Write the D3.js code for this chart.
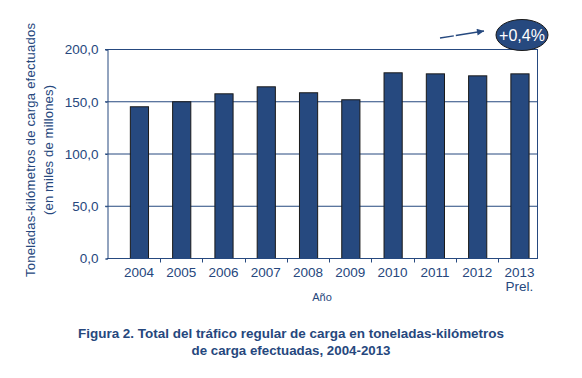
<!DOCTYPE html>
<html>
<head>
<meta charset="utf-8">
<script src="https://cdn.jsdelivr.net/npm/d3@7"></script>
<style>
  body { margin: 0; background: #fff; }
  svg text { font-family: "Liberation Sans", Arial, sans-serif; fill: #26477d; }
</style>
</head>
<body>
<div id="chart"></div>
<script>
// Data
const years = ['2004', '2005', '2006', '2007', '2008', '2009', '2010', '2011', '2012', '2013'];
const values = [145.2, 150.0, 157.6, 164.3, 158.6, 151.9, 177.7, 176.7, 174.8, 176.7];
const yTicks = [0, 50, 100, 150, 200];

const width = 582;
const height = 378;
const plot = { left: 107, right: 537, top: 49, bottom: 258 };
const blue = '#26497f';
const textBlue = '#26477d';

const svg = d3.select('#chart')
    .append('svg')
    .attr('width', width)
    .attr('height', height);

// Scales
const x = d3.scaleBand()
    .domain(years)
    .range([plot.left, plot.right])
    .paddingInner(0.57)
    .paddingOuter(0.37)
    .align(0.73);

const y = d3.scaleLinear()
    .domain([0, 200])
    .range([plot.bottom, plot.top]);

const fmt = d => d3.format('.1f')(d).replace('.', ',');

// Gridlines
svg.append('g')
    .selectAll('line')
    .data(yTicks.filter(d => d > 0))
    .join('line')
    .attr('x1', plot.left - 2)
    .attr('x2', plot.right)
    .attr('y1', d => y(d) + 0.5)
    .attr('y2', d => y(d) + 0.5)
    .attr('stroke', blue)
    .attr('stroke-width', 1);

// Right border
svg.append('line')
    .attr('x1', plot.right + 0.5).attr('x2', plot.right + 0.5)
    .attr('y1', plot.top).attr('y2', plot.bottom)
    .attr('stroke', blue);

// Bars
svg.append('g')
    .selectAll('rect')
    .data(values)
    .join('rect')
    .attr('x', (d, i) => x(years[i]) + 0.5)
    .attr('y', d => y(d) + 0.5)
    .attr('width', x.bandwidth())
    .attr('height', d => plot.bottom - y(d))
    .attr('fill', blue)
    .attr('stroke', '#1a1a1a')
    .attr('stroke-width', 1);

// Y axis
const yAxis = svg.append('g')
    .attr('transform', `translate(${plot.left + 0.5},0.5)`)
    .call(d3.axisLeft(y).tickValues(yTicks).tickFormat(fmt).tickSize(2).tickPadding(7));
yAxis.select('.domain').attr('stroke', blue);
yAxis.selectAll('.tick line').attr('stroke', blue);
yAxis.selectAll('.tick text')
    .attr('fill', textBlue)
    .style('font-size', '13.5px')
    .style('font-family', '"Liberation Sans", Arial, sans-serif');

// X axis: ticks between the categories
const xAxis = svg.append('g')
    .attr('transform', `translate(0,${plot.bottom + 0.5})`);
xAxis.append('line')
    .attr('x1', plot.left).attr('x2', plot.right + 1)
    .attr('stroke', blue);
xAxis.selectAll('.sep')
    .data(years.slice(1))
    .join('line')
    .attr('class', 'sep')
    .attr('x1', d => Math.round(x(d) - x.step() * x.paddingInner() / 2) + 0.5)
    .attr('x2', d => Math.round(x(d) - x.step() * x.paddingInner() / 2) + 0.5)
    .attr('y1', 0).attr('y2', 4)
    .attr('stroke', blue);
xAxis.selectAll('.lbl')
    .data(years)
    .join('text')
    .attr('class', 'lbl')
    .attr('x', d => x(d) + x.bandwidth() / 2)
    .attr('y', 18)
    .attr('text-anchor', 'middle')
    .style('font-size', '13.5px')
    .text(d => d);
xAxis.append('text')
    .attr('x', x('2013') + x.bandwidth() / 2)
    .attr('y', 32)
    .attr('text-anchor', 'middle')
    .style('font-size', '13.5px')
    .text('Prel.');

// Axis titles
svg.append('text')
    .attr('x', 322)
    .attr('y', 301)
    .attr('text-anchor', 'middle')
    .style('font-size', '11px')
    .text('Año');

svg.append('text')
    .attr('transform', 'translate(35,150) rotate(-90)')
    .attr('text-anchor', 'middle')
    .style('font-size', '13px')
    .attr('textLength', 254)
    .attr('lengthAdjust', 'spacing')
    .text('Toneladas-kilómetros de carga efectuados');
svg.append('text')
    .attr('transform', 'translate(53,150) rotate(-90)')
    .attr('text-anchor', 'middle')
    .style('font-size', '13px')
    .attr('textLength', 130)
    .attr('lengthAdjust', 'spacing')
    .text('(en miles de millones)');

// Annotation: arrow and ellipse
svg.append('defs').append('marker')
    .attr('id', 'arrow')
    .attr('viewBox', '0 0 10 10')
    .attr('refX', 10).attr('refY', 5)
    .attr('markerWidth', 10).attr('markerHeight', 7)
    .attr('markerUnits', 'userSpaceOnUse')
    .attr('orient', 'auto')
    .append('path')
    .attr('d', 'M0,0L10,5L0,10Z')
    .attr('fill', blue);
svg.append('line')
    .attr('x1', 440).attr('y1', 38)
    .attr('x2', 484).attr('y2', 31)
    .attr('stroke', blue)
    .attr('stroke-width', 1.3)
    .attr('stroke-dasharray', '14,2,30')
    .attr('marker-end', 'url(#arrow)');
svg.append('ellipse')
    .attr('cx', 522).attr('cy', 35)
    .attr('rx', 26).attr('ry', 15.5)
    .attr('fill', blue)
    .attr('stroke', '#1a1a1a');
svg.append('text')
    .attr('x', 522).attr('y', 41)
    .attr('text-anchor', 'middle')
    .style('font-size', '16px')
    .style('fill', '#fff')
    .text('+0,4%');

// Figure caption
const caption = ['Figura 2. Total del tráfico regular de carga en toneladas-kilómetros',
                 'de carga efectuadas, 2004-2013'];
const captionWidths = [426, 199];
svg.append('g')
    .selectAll('text')
    .data(caption)
    .join('text')
    .attr('x', 291)
    .attr('y', (d, i) => 338 + i * 16.5)
    .attr('text-anchor', 'middle')
    .attr('textLength', (d, i) => captionWidths[i])
    .attr('lengthAdjust', 'spacingAndGlyphs')
    .style('font-size', '13px')
    .style('font-weight', 'bold')
    .text(d => d);
</script>
</body>
</html>
